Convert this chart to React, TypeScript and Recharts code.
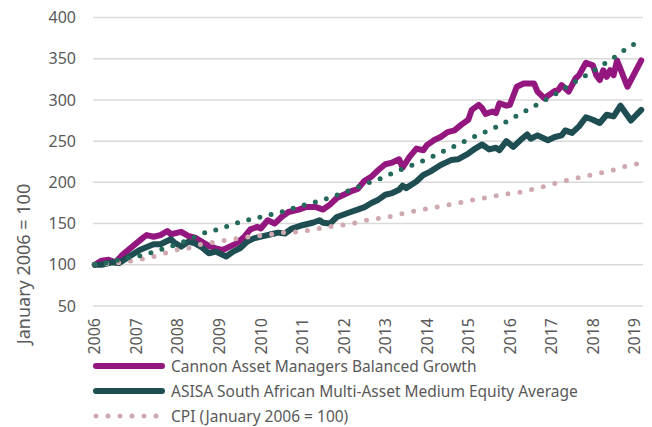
import { LineChart, Line, XAxis, YAxis, CartesianGrid } from 'recharts'

// month index 0 = January 2006
const yearTicks = [0, 12, 24, 36, 48, 60, 72, 84, 96, 108, 120, 132, 144, 156]
const valueTicks = [50, 100, 150, 200, 250, 300, 350, 400]

const cannonMonths = [0, 2, 4, 6, 8, 10, 12, 14, 15, 17, 19, 21, 22, 25, 27, 29, 31, 33, 35, 37, 39, 41, 43, 45, 47, 48, 50, 52, 54, 56, 59, 61, 64, 66, 68, 70, 72, 74, 76, 78, 80, 82, 84, 86, 88, 89, 91, 93, 95, 96, 98, 100, 102, 104, 106, 108, 109, 111, 112, 113, 115, 116, 117, 119, 120, 122, 124, 127, 128, 130, 133, 134, 135, 137, 139, 140, 142, 144, 145, 146, 147, 148, 149, 150, 151, 154, 158]
const cannonValues = [100, 105, 106, 103, 112, 119, 126, 133, 136, 134, 136, 141, 137, 140, 135, 133, 128, 123, 120, 118, 122, 126, 133, 143, 146, 144, 154, 150, 158, 164, 167, 170, 170, 167, 173, 181, 185, 189, 192, 202, 207, 215, 222, 224, 228, 218, 231, 241, 239, 245, 251, 255, 261, 263, 270, 276, 288, 294, 290, 283, 286, 284, 296, 293, 294, 316, 320, 320, 310, 302, 311, 312, 318, 310, 326, 330, 345, 342, 330, 324, 336, 328, 336, 330, 348, 316, 348]

const asisaMonths = [0, 2, 5, 7, 10, 13, 17, 19, 22, 23, 25, 27, 29, 31, 33, 35, 38, 40, 42, 44, 46, 49, 51, 53, 55, 57, 60, 63, 65, 66, 68, 70, 72, 74, 76, 78, 80, 82, 84, 86, 88, 89, 90, 93, 95, 97, 100, 103, 105, 108, 110, 112, 114, 116, 117, 119, 121, 123, 125, 126, 128, 131, 133, 135, 136, 138, 140, 142, 144, 146, 148, 150, 152, 155, 158]
const asisaValues = [100, 100, 103, 102, 110, 118, 125, 125, 131, 127, 122, 128, 126, 121, 114, 116, 110, 116, 120, 128, 132, 135, 137, 139, 138, 144, 148, 151, 154, 151, 150, 158, 161, 164, 167, 170, 175, 179, 185, 187, 191, 196, 193, 201, 209, 213, 221, 227, 228, 235, 241, 246, 240, 242, 239, 250, 243, 251, 258, 253, 257, 251, 255, 257, 263, 260, 268, 279, 276, 272, 282, 280, 293, 275, 288]

const cpiMonths = [0, 3, 6, 9, 12, 15, 18, 21, 24, 27, 30, 33, 36, 39, 42, 45, 48, 51, 54, 57, 60, 63, 66, 69, 72, 75, 78, 81, 84, 87, 90, 93, 96, 99, 102, 105, 108, 111, 114, 117, 120, 123, 126, 129, 132, 135, 138, 141, 144, 147, 150, 153, 156, 158]
const cpiValues = [100, 101, 102, 104, 105.5, 108, 111, 115, 118.5, 120, 124, 126.5, 128.5, 130.5, 132.5, 134, 135.5, 137, 139, 139.5, 140.5, 142.5, 145, 147, 148.5, 150.5, 153.5, 155.5, 157.5, 160, 163, 165.5, 168, 170, 172.5, 175, 177.5, 180, 182, 184.5, 186.5, 188, 191, 194, 197.5, 201, 204, 206.5, 209.5, 212, 215, 219, 222, 223]

const targetMonths = cpiMonths
const targetValues = [100, 102, 105, 108, 110, 113, 117, 121, 125, 130, 136, 141, 143, 148, 152, 155, 158, 161, 164, 168, 172, 175, 179, 183, 188, 192, 198, 202, 207, 213, 218, 223, 228, 234, 240, 246, 252, 258, 263, 269, 276, 283, 290, 297, 304, 312, 320, 327, 335, 343, 351, 360, 368, 371]

const FONT = "'Noto Sans', sans-serif"
const TEXT = '#595959'
const PURPLE = '#93177F'
const TEAL = '#1E4D52'
const GREEN = '#23695C'
const PINK = '#CFA9AF'

const byMonth = new Map<number, Record<string, number>>()
function put(key: string, months: number[], values: number[]) {
  months.forEach((m, i) => {
    const row = byMonth.get(m) ?? { m }
    row[key] = values[i]
    byMonth.set(m, row)
  })
}
put('cannon', cannonMonths, cannonValues)
put('asisa', asisaMonths, asisaValues)
put('cpi', cpiMonths, cpiValues)
put('target', targetMonths, targetValues)
const rows = [...byMonth.values()].sort((a, b) => a.m - b.m)

const YearTick = ({ x, y, payload }: any) => (
  <text x={x} y={y} transform={`rotate(-90 ${x} ${y})`} textAnchor="end" dy="0.36em" fill={TEXT} fontSize={16} fontFamily={FONT}>
    {2006 + payload.value / 12}
  </text>
)

const legendItems = [
  { name: 'Cannon Asset Managers Balanced Growth', color: PURPLE, dotted: false },
  { name: 'ASISA South African Multi-Asset Medium Equity Average', color: TEAL, dotted: false },
  { name: 'CPI (January 2006 = 100)', color: PINK, dotted: true },
]

export default function App() {
  return (
    <div style={{ position: 'absolute', left: 0, top: 0, width: 652, height: 427, background: '#fff', fontFamily: FONT }}>
      <LineChart width={652} height={427} data={rows} margin={{ top: 17.5, right: 9, left: 0, bottom: 0 }}>
        <CartesianGrid vertical={false} stroke="#D9D9D9" strokeWidth={1.5} />
        <XAxis
          dataKey="m"
          type="number"
          domain={[-0.5, 158.5]}
          ticks={yearTicks}
          interval={0}
          height={121}
          axisLine={false}
          tickLine={false}
          tickSize={0}
          tickMargin={12}
          tick={(props: any) => <YearTick {...props} />}
        />
        <YAxis
          domain={[50, 400]}
          ticks={valueTicks}
          width={93}
          axisLine={false}
          tickLine={false}
          tickSize={0}
          tickMargin={17}
          tick={{ fill: TEXT, fontSize: 16, fontFamily: FONT }}
          label={{
            content: () => (
              <text transform="translate(23,264) rotate(-90)" textAnchor="middle" dominantBaseline="central" fill={TEXT} fontSize={18} fontFamily={FONT}>
                January 2006 = 100
              </text>
            ),
          }}
        />
        <Line type="linear" dataKey="cannon" stroke={PURPLE} strokeWidth={6} strokeLinejoin="round" strokeLinecap="round" dot={false} connectNulls isAnimationActive={false} />
        <Line type="linear" dataKey="asisa" stroke={TEAL} strokeWidth={6} strokeLinejoin="round" strokeLinecap="round" dot={false} connectNulls isAnimationActive={false} />
        <Line type="linear" dataKey="cpi" stroke={PINK} strokeWidth={5} strokeDasharray="0 12" strokeLinecap="round" dot={false} connectNulls isAnimationActive={false} />
        <Line type="linear" dataKey="target" stroke={GREEN} strokeWidth={5} strokeDasharray="0 11.5" strokeLinecap="round" dot={false} connectNulls isAnimationActive={false} />
      </LineChart>

      {/* legend */}
      <div style={{ position: 'absolute', left: 93, top: 353.5, color: TEXT, fontSize: 15.5, lineHeight: '18px' }}>
        {legendItems.map(item => (
          <div key={item.name} style={{ display: 'flex', alignItems: 'center', height: 25, whiteSpace: 'nowrap' }}>
            <svg width={78} height={10} style={{ flexShrink: 0 }}>
              {item.dotted ? (
                <line x1={3} x2={66} y1={5} y2={5} stroke={item.color} strokeWidth={5} strokeDasharray="0 12" strokeLinecap="round" />
              ) : (
                <line x1={3} x2={69} y1={5} y2={5} stroke={item.color} strokeWidth={6} strokeLinecap="round" />
              )}
            </svg>
            <span>{item.name}</span>
          </div>
        ))}
      </div>
    </div>
  )
}
